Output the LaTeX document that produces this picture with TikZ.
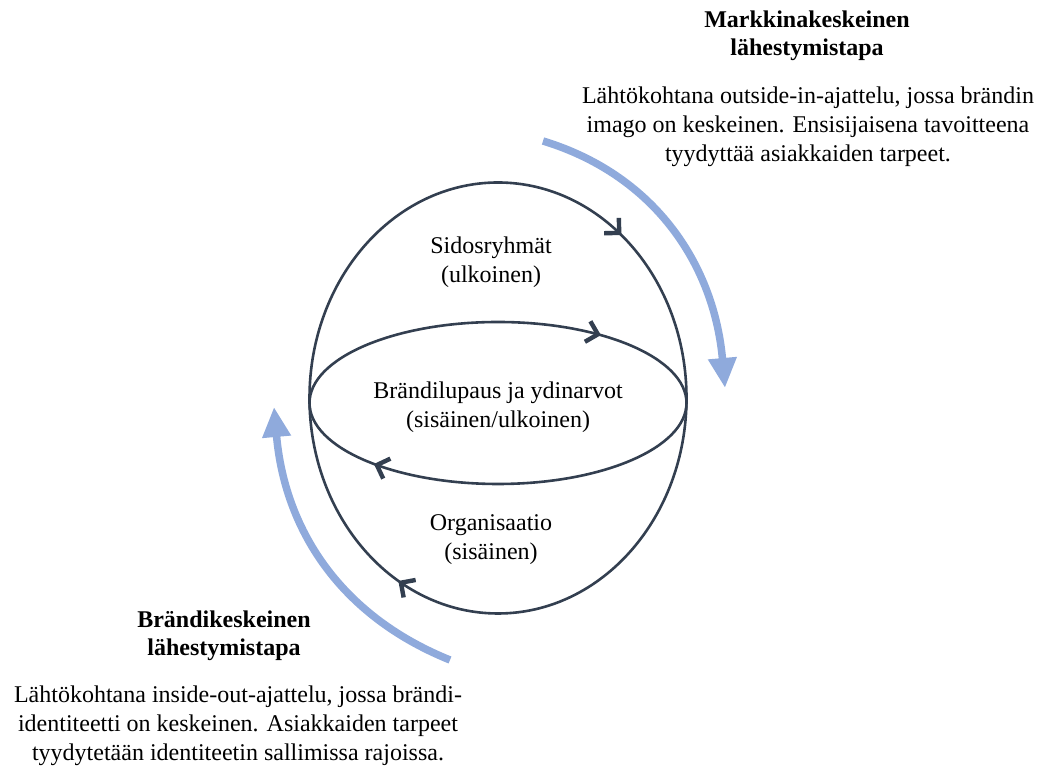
\documentclass[tikz,border=0pt]{standalone}
\usepackage{fontspec}
\setmainfont{Liberation Serif}
\usetikzlibrary{arrows.meta,calc}
\definecolor{navy}{HTML}{333F50}
\definecolor{lblue}{HTML}{8FAADC}
\begin{document}
\begin{tikzpicture}[x=1pt,y=1pt,
  ring/.style={draw=navy, line width=2.6pt},
  chev/.style={draw=navy, line width=4.4pt, line join=miter, line cap=butt},
  flow/.style={draw=lblue, line width=7.5pt, -{Triangle[length=30pt,width=27pt]}},
  lbl/.style={font=\fontsize{24}{29}\selectfont, align=center, inner sep=0pt},
  head/.style={font=\fontsize{24}{28}\selectfont\bfseries, align=center, inner sep=0pt}]
\useasboundingbox (0,0) rectangle (1041,767);
% ellipses
\coordinate (O) at (498,369);
\coordinate (Oi) at (498,364);
\draw[ring] (O) ellipse[x radius=188.5, y radius=215.5];
\draw[ring] (Oi) ellipse[x radius=188.5, y radius=81];
% direction marks
\coordinate (m1) at ($(O)+(50:188.5 and 215.5)$);
\coordinate (m2) at ($(O)+(239:188.5 and 215.5)$);
\coordinate (m3) at ($(Oi)+(58:188.5 and 81)$);
\coordinate (m4) at ($(Oi)+(230:188.5 and 81)$);
\draw[chev] ($(m1)+(91.2:15)$) -- (m1) -- ($(m1)+(-178.8:15)$);
\draw[chev] ($(m2)+(280.5:15)$) -- (m2) -- ($(m2)+(10.5:15)$);
\draw[chev] ($(m3)+(120:15)$) -- (m3) -- ($(m3)+(-150:15)$);
\draw[chev] ($(m4)+(295.2:15)$) -- (m4) -- ($(m4)+(25.2:15)$);
% labels in ellipses
\node[lbl] (sid) at (491,505) {Sidosryhmät\\(ulkoinen)};
\node[lbl] (bra) at (498,360) {Brändilupaus ja ydinarvot\\(sisäinen/ulkoinen)};
\node[lbl] (org) at (491,227) {Organisaatio\\(sisäinen)};
% blue flow arrows
\coordinate (r0) at (543,626);
\coordinate (r1) at (725,379);
\draw[flow] (r0) to[out=-17, in=95] (r1);
\coordinate (l0) at (450,107);
\coordinate (l1) at (274,360);
\draw[flow] (l0) to[out=158, in=-85] (l1);
% side texts
\node[head] (mh) at (807,731) {Markkinakeskeinen\\lähestymistapa};
\node[lbl] (mt) at (808,640) {Lähtökohtana outside-in-ajattelu, jossa brändin\\imago on keskeinen. Ensisijaisena tavoitteena\\tyydyttää asiakkaiden tarpeet.};
\node[head] (bh) at (224,131) {Brändikeskeinen\\lähestymistapa};
\node[lbl] (bt) at (238,41) {Lähtökohtana inside-out-ajattelu, jossa brändi-\\identiteetti on keskeinen. Asiakkaiden tarpeet\\tyydytetään identiteetin sallimissa rajoissa.};
\end{tikzpicture}
\end{document}
